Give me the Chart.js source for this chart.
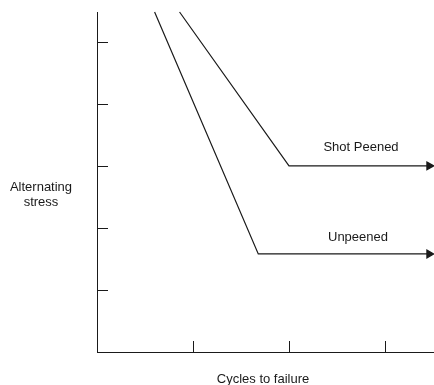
<!DOCTYPE html>
<html>
<head>
<meta charset="utf-8">
<script src="https://cdn.jsdelivr.net/npm/chart.js@4/dist/chart.umd.min.js"></script>
<style>
  html, body { margin: 0; padding: 0; background: #fff; }
  #chart { display: block; }
</style>
</head>
<body>
<canvas id="chart" width="434" height="385"></canvas>
<script>
// S-N curves (arbitrary units)
const seriesNames = ['Unpeened', 'Shot Peened'];
const unpeenedX = [0.60, 1.68, 3.46];
const unpeenedY = [5.48, 1.58, 1.58];
const peenedX = [0.86, 2.0, 3.46];
const peenedY = [5.48, 3.0, 3.0];
const xTicks = [1, 2, 3];
const yTicks = [1, 2, 3, 4, 5];
const xTitle = 'Cycles to failure';
const yTitle = ['Alternating', 'stress'];

const ink = '#1a1a1a';
const font = '13px "Liberation Sans", Arial, sans-serif';

function toPoints(xs, ys) {
  return xs.map((x, i) => ({ x: x, y: ys[i] }));
}

const decorations = {
  id: 'decorations',
  afterDraw(chart) {
    const ctx = chart.ctx;
    const xs = chart.scales.x;
    const ys = chart.scales.y;
    const area = chart.chartArea;
    ctx.save();
    ctx.strokeStyle = ink;
    ctx.lineWidth = 1;
    // inward tick marks
    ctx.beginPath();
    xTicks.forEach(v => {
      const px = Math.round(xs.getPixelForValue(v)) + 0.5;
      ctx.moveTo(px, area.bottom);
      ctx.lineTo(px, area.bottom - 11);
    });
    yTicks.forEach(v => {
      const py = Math.round(ys.getPixelForValue(v)) + 0.5;
      ctx.moveTo(area.left, py);
      ctx.lineTo(area.left + 11, py);
    });
    ctx.stroke();

    // labels
    ctx.fillStyle = ink;
    ctx.font = font;
    ctx.textAlign = 'center';
    ctx.textBaseline = 'middle';
    ctx.fillText(yTitle[0], 41, 187);
    ctx.fillText(yTitle[1], 41, 202);
    ctx.fillText(xTitle, 263, 379);

    // series names placed above the flat part of each curve
    ctx.fillText(seriesNames[1], 361, 147);
    ctx.fillText(seriesNames[0], 358, 237);
    ctx.restore();
  }
};

const lineStyle = {
  borderColor: ink,
  backgroundColor: ink,
  borderWidth: 1.2,
  showLine: true,
  pointRadius: [0, 0, 4.5],
  pointStyle: 'triangle',
  rotation: 90,
  clip: false
};

const axisGrid = { display: false, drawTicks: false, tickLength: 0 };

new Chart(document.getElementById('chart'), {
  type: 'scatter',
  data: {
    datasets: [
      Object.assign({ label: seriesNames[0], data: toPoints(unpeenedX, unpeenedY) }, lineStyle),
      Object.assign({ label: seriesNames[1], data: toPoints(peenedX, peenedY) }, lineStyle)
    ]
  },
  options: {
    responsive: false,
    animation: false,
    layout: { autoPadding: false, padding: { left: 97, top: 12, right: 1, bottom: 33 } },
    plugins: {
      legend: { display: false },
      tooltip: { enabled: false }
    },
    scales: {
      x: {
        type: 'linear',
        min: 0,
        max: 3.5,
        afterBuildTicks: axis => { axis.ticks = xTicks.map(v => ({ value: v })); },
        ticks: { display: false, padding: 0 },
        grid: axisGrid,
        border: { display: true, color: ink, width: 1 }
      },
      y: {
        type: 'linear',
        min: 0,
        max: 5.48,
        afterBuildTicks: axis => { axis.ticks = yTicks.map(v => ({ value: v })); },
        ticks: { display: false, padding: 0 },
        grid: axisGrid,
        border: { display: true, color: ink, width: 1 }
      }
    }
  },
  plugins: [decorations]
});
</script>
</body>
</html>
